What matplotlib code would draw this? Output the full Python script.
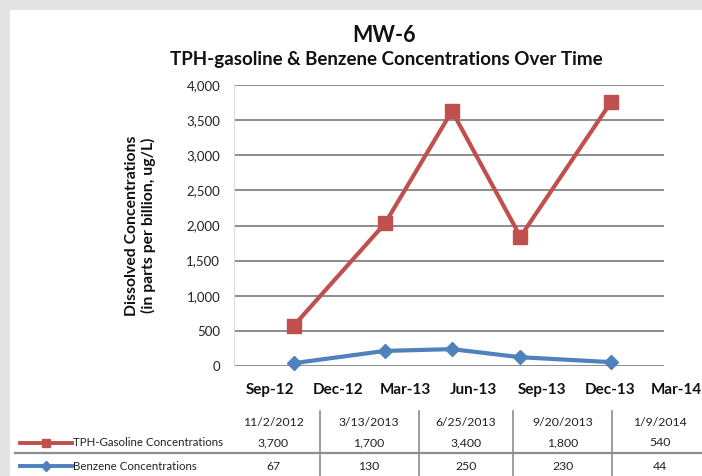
import matplotlib
matplotlib.use("Agg")
import matplotlib.pyplot as plt
import matplotlib.dates as mdates
from matplotlib.patches import Rectangle
from matplotlib.lines import Line2D
from matplotlib.transforms import blended_transform_factory
from datetime import date

plt.rcParams['font.family'] = ['Lato', 'DejaVu Sans']

# Data read from the plotted points
sample_dates = [date(2012, 10, 2), date(2013, 2, 2), date(2013, 5, 3),
                date(2013, 8, 3), date(2013, 12, 3)]
tph_plotted = [570, 2030, 3630, 1840, 3760]
benzene_plotted = [40, 215, 240, 125, 55]

# Axis tick labels (quarters)
tick_dates = [date(2012, 9, 1), date(2012, 12, 1), date(2013, 3, 1), date(2013, 6, 1),
              date(2013, 9, 1), date(2013, 12, 1), date(2014, 3, 1)]
tick_labels = ['Sep-12', 'Dec-12', 'Mar-13', 'Jun-13', 'Sep-13', 'Dec-13', 'Mar-14']

# Data table below the chart
table_dates = ['11/2/2012', '3/13/2013', '6/25/2013', '9/20/2013', '1/9/2014']
table_tph = ['3,700', '1,700', '3,400', '1,800', '540']
table_benzene = ['67', '130', '250', '230', '44']

red = '#C0504D'
blue = '#4F81BD'
grid_col = '#8c8c8c'

W, H = 702, 476
fig = plt.figure(figsize=(W / 100, H / 100), dpi=100)
fig.patch.set_facecolor('#e4e4e4')


def fx(px):
    return px / W


def fy(py):
    return 1 - py / H


# white card
fig.patches.append(Rectangle((fx(10), 0), 1 - fx(10), fy(10), transform=fig.transFigure,
                             facecolor='white', edgecolor='none', zorder=-5))

ax = fig.add_axes([fx(234), fy(366), fx(664) - fx(234), fy(85) - fy(366)])
ax.set_facecolor('none')
ax.set_zorder(2)

ax.plot(sample_dates, tph_plotted, color=red, lw=3.0, marker='s', ms=9.5,
        markeredgecolor=red, zorder=3, clip_on=False)
ax.plot(sample_dates, benzene_plotted, color=blue, lw=3.0, marker='D', ms=7.5,
        markeredgecolor=blue, zorder=3, clip_on=False)

ax.set_ylim(0, 4000)
ax.set_yticks(range(0, 4001, 500))
ax.set_yticklabels([f'{v:,}' for v in range(0, 4001, 500)], fontsize=9.5, color='#222222')
ax.set_xlim(date(2012, 7, 14), date(2014, 2, 12))
ax.yaxis.grid(True, color=grid_col, lw=1.4)
ax.set_axisbelow(True)
ax.tick_params(axis='y', length=0, pad=10)
ax.set_xticks([])
for s in ['top', 'right', 'bottom']:
    ax.spines[s].set_visible(False)
ax.spines['left'].set_color('#dddddd')
ax.spines['left'].set_linewidth(0.8)

trans = blended_transform_factory(ax.transData, fig.transFigure)
for d, lab in zip(tick_dates, tick_labels):
    ax.text(mdates.date2num(d), fy(390), lab, transform=trans, ha='center', va='center',
            fontsize=11, fontweight='bold', color='#111111', clip_on=False)

ax.set_ylabel('Dissolved Concentrations\n(in parts per billion, ug/L)', fontsize=11.3,
              fontweight='bold', color='#111111', linespacing=1.1, labelpad=22)

fig.text(fx(384), fy(36), 'MW-6', ha='center', va='center', fontsize=15.5, fontweight='bold',
         color='#111111')
fig.text(fx(386), fy(60), 'TPH-gasoline & Benzene Concentrations Over Time', ha='center',
         va='center', fontsize=13.5, fontweight='bold', color='#111111')

# data table
col_x = [273, 369, 466, 563, 660]
for cx, d, t, b in zip(col_x, table_dates, table_tph, table_benzene):
    fig.text(fx(cx), fy(423), d, ha='center', va='center', fontsize=8.8, color='#222222')
    fig.text(fx(cx), fy(443), t, ha='center', va='center', fontsize=8.8, color='#222222')
    fig.text(fx(cx), fy(467), b, ha='center', va='center', fontsize=8.8, color='#222222')

for vx in [320, 419, 513, 612]:
    fig.add_artist(Line2D([fx(vx), fx(vx)], [fy(411), 0], transform=fig.transFigure,
                          color='#8c8c8c', lw=1.2))
fig.add_artist(Line2D([fx(15), 1], [fy(453), fy(453)], transform=fig.transFigure,
                      color='#8c8c8c', lw=1.6))

# legend keys in the table
fig.add_artist(Line2D([fx(20), fx(46), fx(72)], [fy(443), fy(443), fy(443)],
                      transform=fig.transFigure, color=red, lw=2.8, marker='s', ms=6,
                      markevery=[1], markeredgecolor=red))
fig.add_artist(Line2D([fx(20), fx(46), fx(72)], [fy(466), fy(466), fy(466)],
                      transform=fig.transFigure, color=blue, lw=2.8, marker='D', ms=5,
                      markevery=[1], markeredgecolor=blue))
fig.text(fx(73), fy(443), 'TPH-Gasoline Concentrations', ha='left', va='center',
         fontsize=8.3, color='#222222')
fig.text(fx(73), fy(466), 'Benzene Concentrations', ha='left', va='center',
         fontsize=8.3, color='#222222')

fig.savefig('out.png', dpi=100, facecolor=fig.get_facecolor())
